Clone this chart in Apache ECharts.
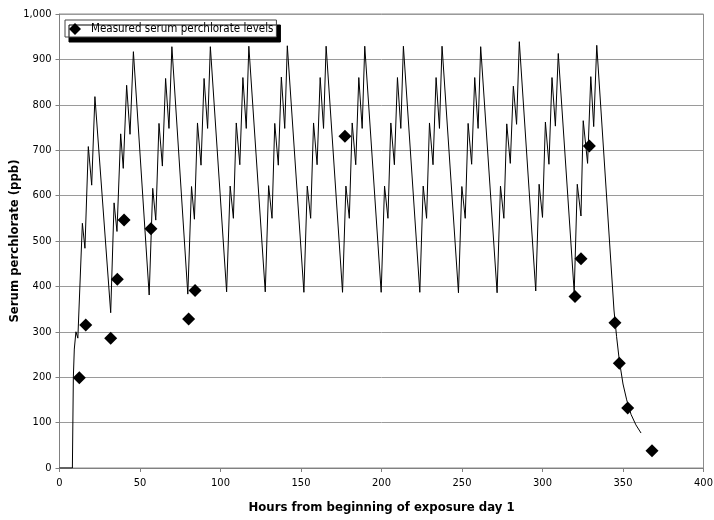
<!DOCTYPE html>
<html>
<head>
<meta charset="utf-8">
<script src="https://cdn.jsdelivr.net/npm/echarts@6/dist/echarts.min.js"></script>
<style>
html,body{margin:0;padding:0;background:#fff;}
#chart{width:714px;height:520px;}
</style>
</head>
<body>
<div id="chart"></div>
<script>
// Simulated serum perchlorate curve (hours, ppb)
var simHours = [
  0, 8, 8.6, 9.2, 10.2, 11.4, 14.2, 15.8, 17.9, 20.0, 22.0,
  31.8, 33.9, 35.7, 38.0, 39.6, 41.7, 43.8, 45.9,
  55.7, 57.9, 59.8, 61.8, 63.9, 65.9, 68.0, 69.8,
  79.7, 82.0, 83.8, 85.7, 87.9, 89.8, 92.0, 93.7,
  103.8, 106.0, 108.0, 109.8, 112.0, 113.9, 116.0, 117.6,
  127.8, 129.9, 132.0, 133.7, 135.9, 137.8, 139.9, 141.5,
  151.8, 153.9, 156.0, 157.8, 160.0, 161.9, 164.0, 165.6,
  175.8, 177.9, 180.0, 181.8, 184.0, 185.9, 188.0, 189.6,
  199.8, 201.9, 204.0, 205.8, 208.0, 209.9, 212.0, 213.6,
  223.8, 225.9, 228.0, 229.8, 232.0, 233.9, 236.0, 237.6,
  247.8, 249.9, 252.0, 253.8, 256.0, 257.9, 260.0, 261.6,
  271.8, 273.9, 276.0, 277.8, 280.0, 281.9, 283.9, 285.6,
  295.8, 297.9, 300.0, 301.8, 304.0, 305.9, 308.0, 309.8,
  319.7, 321.6, 323.9, 325.3, 328.0, 330.0, 331.8, 333.7,
  344.4, 346.0, 347.7, 350.0, 352.3, 355.0, 358.0, 361.2
];
var simPpb = [
  0, 0, 200, 262, 300, 286, 539, 484, 708, 623, 818,
  342, 584, 521, 736, 660, 843, 735, 917,
  381, 616, 546, 759, 665, 858, 748, 928,
  383, 620, 548, 760, 667, 858, 748, 928,
  388, 621, 550, 760, 668, 860, 748, 929,
  388, 622, 550, 759, 667, 861, 748, 930,
  387, 621, 550, 760, 668, 860, 748, 929,
  387, 621, 550, 760, 668, 860, 748, 929,
  387, 621, 550, 760, 668, 860, 748, 929,
  387, 621, 550, 760, 668, 860, 748, 929,
  386, 620, 550, 759, 669, 860, 748, 928,
  386, 621, 550, 758, 671, 841, 757, 939,
  390, 625, 552, 762, 669, 860, 753, 913,
  387, 625, 555, 765, 671, 862, 752, 931,
  348, 290, 237, 185, 150, 118, 95, 77
];
// Measured serum perchlorate levels
var measHours = [12.3, 16.3, 31.8, 35.9, 40.1, 56.8, 80.2, 84.2, 177.3, 320.2, 323.9, 329.1, 345.0, 347.7, 352.9, 368.0];
var measPpb   = [199, 315, 286, 416, 546, 527, 328, 391, 731, 378, 461, 709, 320, 231, 132, 38];

var xTicks = {min: 0, max: 400, step: 50};
var yTicks = {min: 0, max: 1000, step: 100};

var FONT = "'DejaVu Sans Condensed', 'Liberation Sans Narrow', sans-serif";

var simData = simHours.map(function (h, i) { return [h, simPpb[i]]; });
var measData = measHours.map(function (h, i) { return [h, measPpb[i]]; });

var chart = echarts.init(document.getElementById('chart'), null, {renderer: 'canvas'});
chart.setOption({
  animation: false,
  backgroundColor: '#ffffff',
  textStyle: {fontFamily: FONT, color: '#000'},
  grid: {left: 59.5, right: 10.5, top: 14, bottom: 52, outerBoundsMode: 'none', containLabel: false,
    show: true, borderColor: '#8c8c8c', borderWidth: 1, backgroundColor: 'transparent'},
  legend: {
    data: [{name: 'Measured serum perchlorate levels', icon: 'diamond', itemStyle: {color: '#000', opacity: 1}}],
    left: 65, top: 20,
    itemWidth: 12, itemHeight: 12, itemGap: 0,
    padding: [3, 3, 2, 4],
    backgroundColor: '#ffffff',
    borderColor: '#444444', borderWidth: 1,
    shadowColor: '#000000', shadowOffsetX: 4, shadowOffsetY: 5, shadowBlur: 0,
    textStyle: {fontFamily: FONT, fontSize: 11.5, color: '#000', padding: [0, 0, 0, 5]}
  },
  xAxis: {
    type: 'value', min: xTicks.min, max: xTicks.max, interval: xTicks.step,
    name: 'Hours from beginning of exposure day 1',
    nameLocation: 'middle', nameGap: 33,
    nameTextStyle: {fontFamily: FONT, fontSize: 13, fontWeight: 'bold', color: '#000'},
    axisLine: {show: true, lineStyle: {color: '#808080', width: 1}},
    axisTick: {show: true, length: 4, lineStyle: {color: '#808080'}},
    axisLabel: {fontFamily: FONT, fontSize: 11, color: '#000', margin: 10},
    splitLine: {show: false}
  },
  yAxis: {
    type: 'value', min: yTicks.min, max: yTicks.max, interval: yTicks.step,
    name: 'Serum perchlorate (ppb)',
    nameLocation: 'middle', nameGap: 38, nameMoveOverlap: false,
    nameTextStyle: {fontFamily: FONT, fontSize: 13, fontWeight: 'bold', color: '#000'},
    axisLine: {show: true, lineStyle: {color: '#808080', width: 1}},
    axisTick: {show: true, length: 4, lineStyle: {color: '#808080'}},
    axisLabel: {fontFamily: FONT, fontSize: 11, color: '#000', margin: 8,
      formatter: function (v) { return v.toLocaleString('en-US'); }},
    splitLine: {show: true, lineStyle: {color: '#9a9a9a', width: 1}}
  },
  series: [
    {
      name: 'Simulated', type: 'line', data: simData,
      showSymbol: false, symbol: 'none', smooth: false,
      lineStyle: {color: '#000', width: 1},
      z: 2, silent: true
    },
    {
      name: 'Measured serum perchlorate levels', type: 'scatter', data: measData,
      symbol: 'diamond', symbolSize: 13,
      itemStyle: {color: '#000', opacity: 1},
      z: 3
    }
  ]
});
</script>
</body>
</html>
